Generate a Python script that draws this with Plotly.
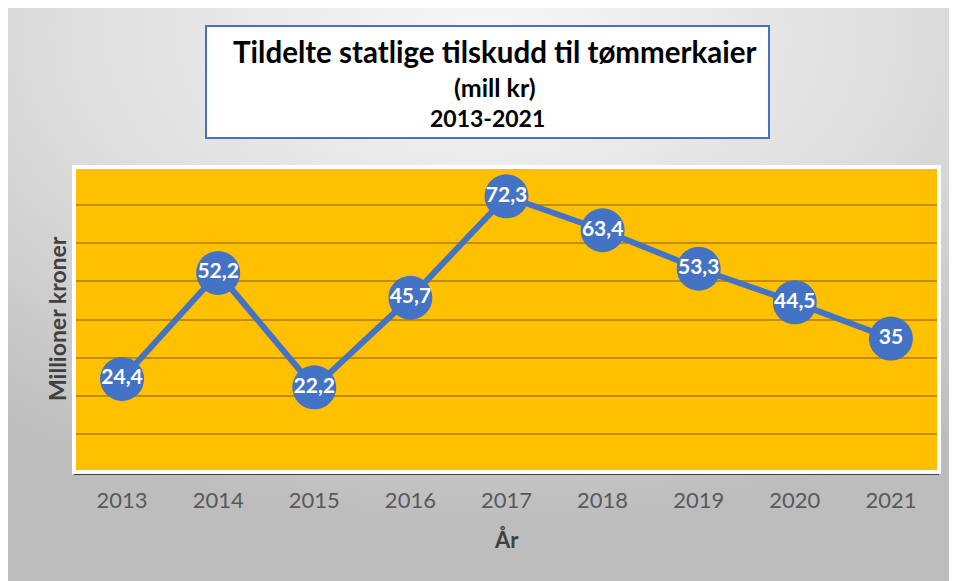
import base64
import plotly.graph_objects as go

years = ["2013", "2014", "2015", "2016", "2017", "2018", "2019", "2020", "2021"]
values = [24.4, 52.2, 22.2, 45.7, 72.3, 63.4, 53.3, 44.5, 35]
labels = [("%g" % v).replace(".", ",") for v in values]

title_lines = ["Tildelte statlige tilskudd til tømmerkaier", "(mill kr)", "2013-2021"]
y_title = "Millioner kroner"
x_title = "År"

# page body has an 8px margin; figure is placed at (8, 8) in the window
OFF = 8
W, H = 957 - OFF, 581 - OFF
L, R, T, B = 74 - OFF, 18, 167 - OFF, 109
PW, PH = W - L - R, H - T - B


def px(x):
    """window x pixel -> paper fraction"""
    return (x - OFF - L) / PW


def py(y):
    """window y pixel -> paper fraction"""
    return (H - B - (y - OFF)) / PH


FONT = "Lato"
BLUE = "#4472C4"

svg = """<svg xmlns='http://www.w3.org/2000/svg' width='949' height='573' viewBox='0 0 949 573' preserveAspectRatio='none'>
<defs><radialGradient id='g' cx='50%' cy='5%' r='85%' fx='50%' fy='5%'>
<stop offset='0' stop-color='#F8F8F8'/><stop offset='0.55' stop-color='#DCDCDC'/><stop offset='1' stop-color='#BDBDBD'/>
</radialGradient></defs>
<rect x='0' y='0' width='949' height='573' fill='url(#g)'/></svg>"""
src = "data:image/svg+xml;base64," + base64.b64encode(svg.encode()).decode()

fig = go.Figure()
fig.add_trace(go.Scatter(
    x=years, y=values, mode="lines+markers+text",
    line=dict(color=BLUE, width=6),
    marker=dict(size=44, color=BLUE, line=dict(width=0)),
    text=labels, textposition="middle center",
    textfont=dict(family=FONT, size=21, color="white", weight="bold"),
    hoverinfo="skip", cliponaxis=False,
))

fig.update_layout(
    width=W, height=H,
    margin=dict(l=L, r=R, t=T, b=B),
    paper_bgcolor="white", plot_bgcolor="rgba(0,0,0,0)",
    showlegend=False,
    images=[dict(source=src, xref="paper", yref="paper",
                 x=-L / PW, y=1 + T / PH, sizex=W / PW, sizey=H / PH,
                 xanchor="left", yanchor="top", sizing="stretch", layer="below")],
    shapes=[
        dict(type="rect", xref="x domain", yref="y domain", x0=0, x1=1, y0=0, y1=1,
             fillcolor="#FFC000", line=dict(width=0), layer="below"),
        dict(type="rect", xref="x domain", yref="y domain", x0=0, x1=1, y0=0, y1=1,
             fillcolor="rgba(0,0,0,0)", line=dict(color="white", width=4), layer="above"),
        dict(type="rect", xref="paper", yref="paper", x0=px(206), x1=px(769), y0=py(138), y1=py(26),
             fillcolor="white", line=dict(color=BLUE, width=2), layer="above"),
    ],
    annotations=[
        dict(text=title_lines[0], xref="paper", yref="paper", x=px(495), y=py(51),
             showarrow=False, xanchor="center", yanchor="middle",
             font=dict(family=FONT, size=29.5, color="black", weight="bold")),
        dict(text=title_lines[1], xref="paper", yref="paper", x=px(495), y=py(87),
             showarrow=False, xanchor="center", yanchor="middle",
             font=dict(family=FONT, size=25, color="black", weight="bold")),
        dict(text=title_lines[2], xref="paper", yref="paper", x=px(487), y=py(118),
             showarrow=False, xanchor="center", yanchor="middle",
             font=dict(family=FONT, size=23, color="black", weight="bold")),
        dict(text=y_title, xref="paper", yref="paper", x=px(56.5), y=py(318.5),
             showarrow=False, xanchor="center", yanchor="middle", textangle=-90,
             font=dict(family=FONT, size=23, color="#404040", weight="bold")),
        dict(text=x_title, xref="paper", yref="paper", x=px(506), y=py(539),
             showarrow=False, xanchor="center", yanchor="middle",
             font=dict(family=FONT, size=22, color="#404040", weight="bold")),
    ],
)

fig.update_xaxes(type="category", range=[-0.5, 8.5], showgrid=False, zeroline=False,
                 showline=True, linecolor="#404040", linewidth=3, ticks="",
                 ticklabelstandoff=7,
                 tickfont=dict(family=FONT, size=22, color="#595959"), fixedrange=True)
fig.update_yaxes(range=[0, 80], dtick=10, showticklabels=False, showgrid=True,
                 gridcolor="rgba(140,100,0,0.55)", gridwidth=2, zeroline=False,
                 showline=False, ticks="", fixedrange=True)

fig.write_html("out.html")
